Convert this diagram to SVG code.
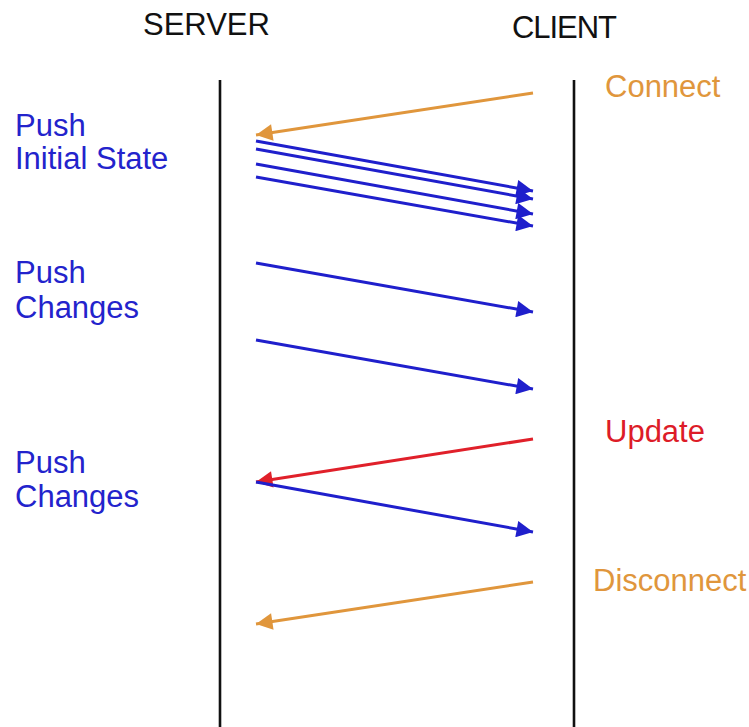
<svg xmlns="http://www.w3.org/2000/svg" width="749" height="727" viewBox="0 0 749 727">
  <style>
    text { font-family: "Liberation Sans", Arial, sans-serif; font-size: 31px; }
    .head { fill: #111111; }
    .blue { fill: #2323cc; }
    .orange { fill: #e0963c; }
    .red { fill: #dd1c28; }
    .life { stroke: #111111; stroke-width: 2.6; }
    .msg { stroke-width: 3; fill: none; }
    .b { stroke: #1f1fcc; }
    .o { stroke: #e0963c; }
    .r { stroke: #e0202a; }
  </style>
  <defs>
    <marker id="ab" viewBox="0 0 10 10" refX="10" refY="5" markerWidth="6.5" markerHeight="5.5" markerUnits="strokeWidth" orient="auto">
      <path d="M0,0 L10,5 L0,10 z" fill="#1f1fcc"/>
    </marker>
    <marker id="ao" viewBox="0 0 10 10" refX="10" refY="5" markerWidth="6.5" markerHeight="5.5" markerUnits="strokeWidth" orient="auto">
      <path d="M0,0 L10,5 L0,10 z" fill="#e0963c"/>
    </marker>
    <marker id="ar" viewBox="0 0 10 10" refX="10" refY="5" markerWidth="6.5" markerHeight="5.5" markerUnits="strokeWidth" orient="auto">
      <path d="M0,0 L10,5 L0,10 z" fill="#e0202a"/>
    </marker>
  </defs>
  <rect width="749" height="727" fill="#ffffff"/>

  <g id="server">
    <text class="head" x="143" y="35">SERVER</text>
    <line class="life" x1="220" y1="80" x2="220" y2="727"/>
  </g>
  <g id="client">
    <text class="head" x="512" y="38" textLength="105">CLIENT</text>
    <line class="life" x1="574" y1="80" x2="574" y2="727"/>
  </g>

  <g id="labels">
    <text class="blue" x="15" y="136">Push</text>
    <text class="blue" x="15" y="169">Initial State</text>
    <text class="blue" x="15" y="283">Push</text>
    <text class="blue" x="15" y="318">Changes</text>
    <text class="blue" x="15" y="473">Push</text>
    <text class="blue" x="15" y="507">Changes</text>
    <text class="orange" x="605" y="97">Connect</text>
    <text class="red" x="605" y="442">Update</text>
    <text class="orange" x="593" y="591">Disconnect</text>
  </g>

  <g id="connectors">
    <line class="msg o" x1="533" y1="93" x2="256" y2="135" marker-end="url(#ao)"/>
    <line class="msg b" x1="256" y1="141" x2="533" y2="191" marker-end="url(#ab)"/>
    <line class="msg b" x1="256" y1="149" x2="533" y2="199" marker-end="url(#ab)"/>
    <line class="msg b" x1="256" y1="164" x2="533" y2="214" marker-end="url(#ab)"/>
    <line class="msg b" x1="256" y1="177" x2="533" y2="226" marker-end="url(#ab)"/>
    <line class="msg b" x1="256" y1="263" x2="533" y2="312" marker-end="url(#ab)"/>
    <line class="msg b" x1="256" y1="340" x2="533" y2="389" marker-end="url(#ab)"/>
    <line class="msg r" x1="533" y1="439" x2="256" y2="482" marker-end="url(#ar)"/>
    <line class="msg b" x1="256" y1="482" x2="533" y2="532" marker-end="url(#ab)"/>
    <line class="msg o" x1="533" y1="582" x2="256" y2="624" marker-end="url(#ao)"/>
  </g>
</svg>
